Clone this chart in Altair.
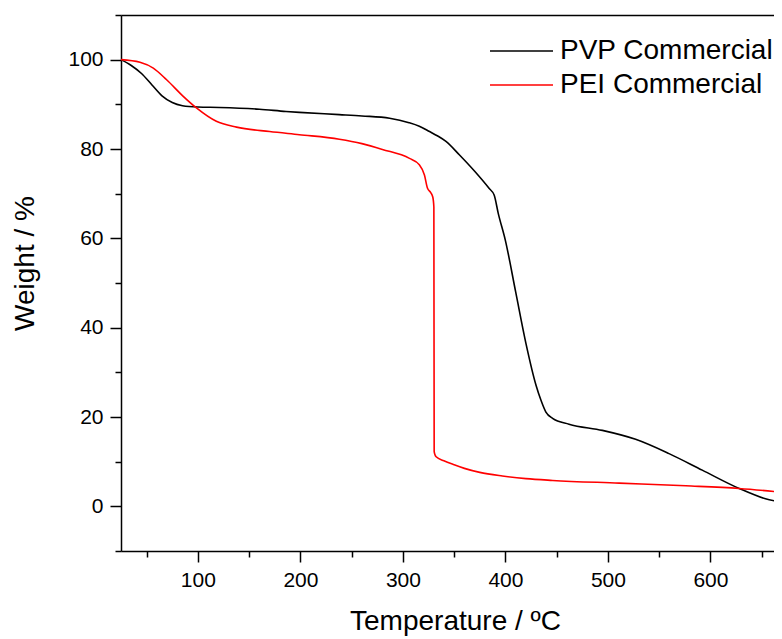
import altair as alt
import pandas as pd

# PVP Commercial (black)
pvp_t = [25, 35, 45, 55, 65, 75, 85, 100, 121, 160, 186, 199, 238, 260, 287,
         306, 316, 326, 334, 342, 355, 370, 384, 389, 393, 400, 410, 420, 430, 434.6, 439.5,
         446, 462, 494.6, 527, 559.6, 592, 628, 653.7, 668]
pvp_w = [100, 98.7, 96.9, 94.4, 91.9, 90.4, 89.7, 89.4, 89.3, 88.9, 88.4, 88.2, 87.7, 87.4, 86.9,
         85.9, 85.1, 83.9, 82.9, 81.7, 78.7, 75.0, 71.2, 69.7, 65.6, 59.5, 48, 36.5, 27, 23.8, 21.1,
         19.7, 18.4, 17.0, 15.0, 11.8, 8.1, 4.0, 1.7, 1.0]

# PEI Commercial (red)
pei_t = [25, 43.5, 56.5, 69.5, 85.7, 98.6, 118, 137.7, 170, 199, 238, 260, 280,
         306.4, 316, 321, 324, 327, 329.2, 330.2, 330.5, 331.2, 332.4, 340, 350, 360, 375,
         397, 420, 446, 511, 576, 628, 668]
pei_w = [100, 99.4, 98.1, 95.5, 91.8, 89.2, 86.2, 84.9, 83.9, 83.2, 82.2, 81.2, 79.9,
         77.9, 76.5, 74.2, 71.2, 70.3, 69.2, 67.0, 12.3, 11.6, 11.1, 10.2, 9.3, 8.5, 7.6,
         6.8, 6.2, 5.8, 5.2, 4.6, 4.0, 3.2]

series = ["PVP Commercial", "PEI Commercial"]
colors = ["#000000", "#ff0000"]

x_major = [100, 200, 300, 400, 500, 600]
x_minor = [50, 150, 250, 350, 450, 550, 650]
y_major = [0, 20, 40, 60, 80, 100]
y_minor = [-10, 10, 30, 50, 70, 90, 110]

df = pd.concat([
    pd.DataFrame({"T": pvp_t, "W": pvp_w, "Sample": series[0], "i": range(len(pvp_t))}),
    pd.DataFrame({"T": pei_t, "W": pei_w, "Sample": series[1], "i": range(len(pei_t))}),
], ignore_index=True)

FONT = "Liberation Sans"
x_scale = alt.Scale(domain=[25, 662], nice=False, zero=False)
y_scale = alt.Scale(domain=[-10, 110], nice=False, zero=False)

lines = alt.Chart(df).mark_line(strokeWidth=1.6, interpolate="monotone", clip=True).encode(
    x=alt.X("T:Q", scale=x_scale,
            axis=alt.Axis(values=x_major, title="Temperature / ºC", orient="bottom",
                          grid=False, tickSize=11, tickWidth=1.5, domainWidth=1.5,
                          domainColor="black", tickColor="black",
                          labelFontSize=21, labelFont=FONT, labelColor="black", labelPadding=7,
                          titleFontSize=28, titleFont=FONT, titleColor="black",
                          titleFontWeight="normal", titlePadding=17, titleX=334)),
    y=alt.Y("W:Q", scale=y_scale,
            axis=alt.Axis(values=y_major, title="Weight / %", orient="left",
                          grid=False, tickSize=11, tickWidth=1.5, domainWidth=1.5,
                          domainColor="black", tickColor="black",
                          labelFontSize=21, labelFont=FONT, labelColor="black", labelPadding=7,
                          titleFontSize=28, titleFont=FONT, titleColor="black",
                          titleFontWeight="normal", titlePadding=28, titleY=248)),
    color=alt.Color("Sample:N",
                    scale=alt.Scale(domain=series, range=colors),
                    legend=alt.Legend(title=None, orient="none", legendX=368, legendY=21,
                                      symbolType="stroke", symbolSize=3969, symbolStrokeWidth=1.5,
                                      clipHeight=30, rowPadding=4, padding=0, labelOffset=6,
                                      labelFontSize=28, labelFont=FONT, labelColor="black",
                                      labelLimit=400)),
    order="i:Q",
)

minor = alt.Chart(df).mark_point(opacity=0).encode(
    x=alt.X("T:Q", scale=x_scale,
            axis=alt.Axis(values=x_minor, labels=False, domain=False, grid=False, title=None,
                          orient="bottom", tickSize=6, tickWidth=1.5, tickColor="black")),
    y=alt.Y("W:Q", scale=y_scale,
            axis=alt.Axis(values=y_minor, labels=False, domain=False, grid=False, title=None,
                          orient="left", tickSize=6, tickWidth=1.5, tickColor="black")),
)

top = alt.Chart(df).mark_point(opacity=0).encode(
    x=alt.X("T:Q", scale=x_scale,
            axis=alt.Axis(orient="top", labels=False, ticks=False, grid=False, title=None,
                          domainWidth=1.5, domainColor="black")),
    y=alt.Y("W:Q", scale=y_scale, axis=None),
)

chart = alt.layer(lines, minor, top).resolve_axis(x="independent", y="independent").properties(
    width=653, height=536,
    autosize=alt.AutoSizeParams(type="none"),
    padding={"left": 113, "top": 7, "right": 0, "bottom": 90},
).configure_view(stroke=None).configure(background="white")

chart.save("out.html", embed_options={"renderer": "svg", "actions": False})
